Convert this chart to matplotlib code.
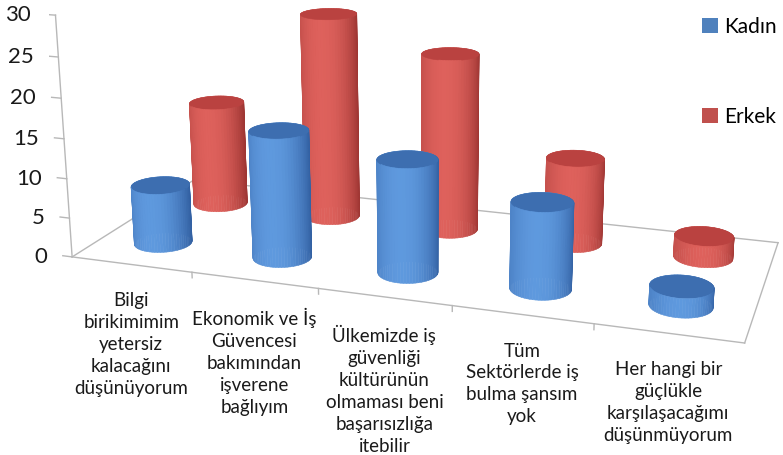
import numpy as np
import matplotlib
matplotlib.use("Agg")
import matplotlib.pyplot as plt
from matplotlib.patches import Patch
from matplotlib.text import Text
from matplotlib.transforms import offset_copy
from mpl_toolkits.mplot3d import proj3d
from mpl_toolkits.mplot3d.art3d import Poly3DCollection

# ---- data -------------------------------------------------------------
categories = [
    "Bilgi\nbirikimimim\nyetersiz\nkalacağını\ndüşünüyorum",
    "Ekonomik ve İş\nGüvencesi\nbakımından\nişverene\nbağlıyım",
    "Ülkemizde iş\ngüvenliği\nkültürünün\nolmaması beni\nbaşarısızlığa\nitebilir",
    "Tüm\nSektörlerde iş\nbulma şansım\nyok",
    "Her hangi bir\ngüçlükle\nkarşılaşacağımı\ndüşünmüyorum",
]
series_names = ["Kadın", "Erkek"]
kadin = [7.5, 16, 14, 10.5, 2.3]
erkek = [14, 27, 23, 11, 2.7]
y_ticks = [0, 5, 10, 15, 20, 25, 30]

# ---- style ------------------------------------------------------------
FONT = "Lato"
ELEV, AZIM, FOCAL = 16, -71.5, 0.38
RADIUS = 0.22
series_style = [
    # light body, dark body, top cap, legend swatch
    dict(light=np.array([0.37, 0.60, 0.87]), dark=np.array([0.20, 0.38, 0.64]),
         cap=np.array([0.24, 0.43, 0.69]), key="#4F81BD"),
    dict(light=np.array([0.87, 0.38, 0.36]), dark=np.array([0.62, 0.21, 0.20]),
         cap=np.array([0.73, 0.26, 0.25]), key="#C0504D"),
]
GRID = (0.72, 0.72, 0.72)

fig = plt.figure(figsize=(7.83, 4.55), dpi=100)
S = 742
ax = fig.add_axes([48.6 / 783, -59 / 455, S / 783, S / 455], projection="3d",
                  computed_zorder=False)
ax.set_proj_type("persp", focal_length=FOCAL)
ax.view_init(elev=ELEV, azim=AZIM)
ax.set_box_aspect((5, 2, 1.85))
ax.set_xticks([])
ax.set_yticks([])
ax.set_zticks([])
for axis in (ax.xaxis, ax.yaxis, ax.zaxis):
    axis.set_visible(False)
ax.set_axis_off()


def cylinder(xc, yc, h, style, zorder, n=64):
    t = np.linspace(0, 2 * np.pi, n + 1)
    az = np.deg2rad(AZIM)
    right = np.array([-np.sin(az), np.cos(az)])
    polys, cols = [], []
    for a0, a1 in zip(t[:-1], t[1:]):
        xs = xc + RADIUS * np.cos([a0, a1])
        ys = yc + RADIUS * np.sin([a0, a1])
        polys.append([(xs[0], ys[0], 0), (xs[1], ys[1], 0),
                      (xs[1], ys[1], h), (xs[0], ys[0], h)])
        am = 0.5 * (a0 + a1)
        u = np.cos(am) * right[0] + np.sin(am) * right[1]
        f = np.clip(1 - ((u + 0.2) / 1.2) ** 2, 0, 1) ** 0.8
        cols.append(style["dark"] + (style["light"] - style["dark"]) * f)
    polys.append([(xc + RADIUS * np.cos(a), yc + RADIUS * np.sin(a), h)
                  for a in t[:-1]])
    cols.append(style["cap"])
    pc = Poly3DCollection(polys, facecolors=cols, edgecolors=cols,
                          linewidths=0.4)
    pc.set_zorder(zorder)
    ax.add_collection3d(pc)


# floor outline and category ticks
ncat = len(categories)
floor = [((0, ncat), (0, 0)), ((ncat, ncat), (0, 2)),
         ((0, ncat), (2, 2)), ((0, 0), (0, 2))]
for xs, ys in floor:
    ax.plot(xs, ys, [0, 0], color=GRID, lw=1.0, zorder=1)
for i in range(1, ncat):
    ax.plot([i, i], [0, 0], [0, -0.7], color=GRID, lw=1.0, zorder=1)

# value axis line and tick marks
ax.plot([0, 0], [0, 0], [0, y_ticks[-1]], color=GRID, lw=1.0, zorder=1)
for v in y_ticks:
    ax.plot([0, -0.08], [0, 0], [v, v], color=GRID, lw=1.0, zorder=1)

# cylinders: back row first, then front row
for row, (vals, style) in reversed(list(enumerate(zip([kadin, erkek], series_style)))):
    for i, v in enumerate(vals):
        cylinder(i + 0.5, row + 0.5, v, style, zorder=3 + (1 - row))

ax.set_xlim(0, ncat)
ax.set_ylim(0, 2)
ax.set_zlim(0, y_ticks[-1])

# text anchors are projected once with the axes' own 3D projection
M = ax.get_proj()


def to2d(x, y, z):
    xp, yp, _ = proj3d.proj_transform(x, y, z, M)
    return float(xp), float(yp)


tick_tr = offset_copy(ax.transData, fig=fig, x=-25, y=0, units="dots")
for v in y_ticks:
    px, py = to2d(0, 0, v)
    ax.text2D(px, py, str(v), transform=tick_tr, ha="right", va="center",
              fontsize=16, family=FONT, color="#1a1a1a", zorder=10)

lab_tr = offset_copy(ax.transData, fig=fig, x=0, y=-28, units="dots")
for i, name in enumerate(categories):
    px, py = to2d(i + 0.5, 0, 0)
    ax.text2D(px, py, name, transform=lab_tr, ha="center", va="top",
              multialignment="center", fontsize=13.5, family=FONT,
              linespacing=1.35, color="#1a1a1a", zorder=10)

handles = [Patch(facecolor=s["key"], edgecolor="none") for s in series_style]
fig.legend(handles, series_names, loc="upper left",
           bbox_to_anchor=(702 / 783, 1 - 17 / 455), frameon=False,
           handlelength=0.75, handleheight=0.75, handletextpad=0.3,
           labelspacing=3.35, borderaxespad=0, borderpad=0,
           prop=dict(family=FONT, size=15))

# empty placeholder texts of the hidden 3D axes are not needed
for t in fig.findobj(Text):
    if not t.get_text():
        t.set_visible(False)

fig.savefig("out.png", dpi=100)
